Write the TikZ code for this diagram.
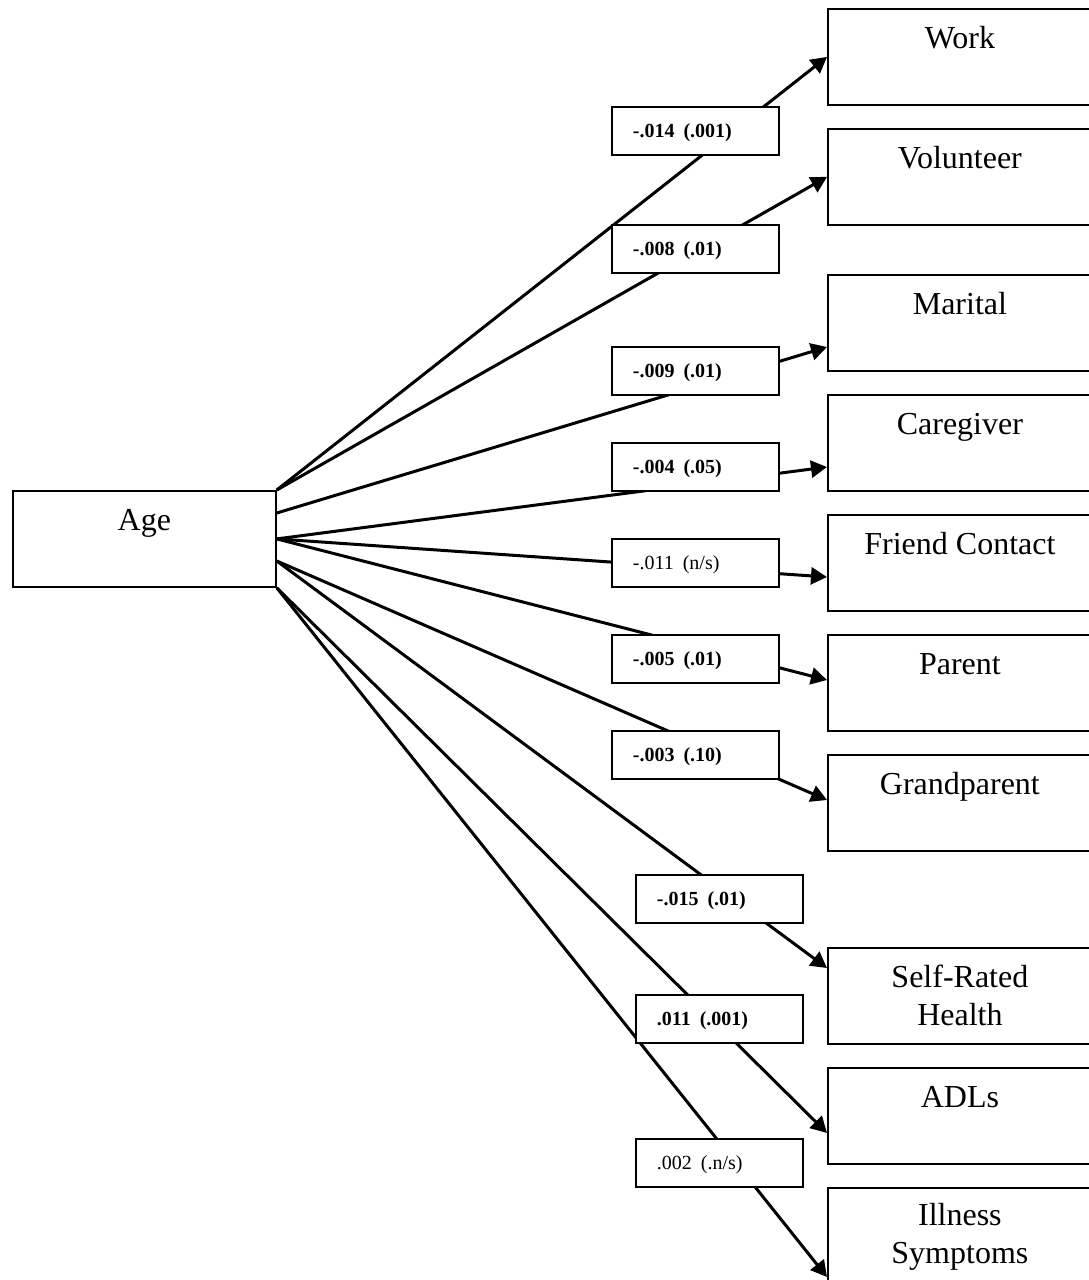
\documentclass[tikz,border=0pt]{standalone}
\usepackage{fontspec}
\setmainfont{Liberation Serif}
\usetikzlibrary{arrows.meta}
\begin{document}
\begin{tikzpicture}[x=1pt,y=-1pt,
  vbox/.style={draw, line width=1.8pt, anchor=north west, inner sep=0pt,
    minimum width=264pt, text height=40pt, text depth=56pt,
    font=\fontsize{32}{38}\selectfont},
  agebox/.style={vbox, minimum width=263pt},
  coef/.style={draw, line width=1.8pt, fill=white, anchor=north west,
    inner xsep=21pt, inner ysep=0pt, text width=125pt, align=left,
    text height=31pt, text depth=17pt,
    font=\fontsize{20}{24}\selectfont\bfseries},
  coefns/.style={coef, font=\fontsize{20}{24}\selectfont},
  arr/.style={line width=3pt, -{Triangle[length=16pt,width=17pt]}}
]
\useasboundingbox (0,0) rectangle (1089,1280);
\clip (0,0) rectangle (1089,1280);

% boxes
\node[agebox] (age) at (12,490) {Age};
\node[vbox] (work) at (827,8) {Work};
\node[vbox] (vol) at (827,128) {Volunteer};
\node[vbox] (mar) at (827,274) {Marital};
\node[vbox] (care) at (827,394) {Caregiver};
\node[vbox] (friend) at (827,514) {Friend Contact};
\node[vbox] (parent) at (827,634) {Parent};
\node[vbox] (grand) at (827,754) {Grandparent};
\node[vbox] (srh) at (827,947) {\begin{tabular}[t]{@{}c@{}}Self-Rated\\Health\end{tabular}};
\node[vbox] (adl) at (827,1067) {ADLs};
\node[vbox, text height=38pt] (ill) at (827,1187) {\begin{tabular}[t]{@{}c@{}}Illness\\Symptoms\end{tabular}};

% start points on Age
\coordinate (s2) at ([yshift=-23pt]age.north east);
\coordinate (s4) at ([yshift=-71pt]age.north east);

% connectors
\draw[arr] (age.north east) -- (work.west);
\draw[arr] (age.north east) -- (vol.west);
\draw[arr] (s2) -- ([yshift=-73pt]mar.north west);
\draw[arr] (age.east) -- ([yshift=-73pt]care.north west);
\draw[arr] (age.east) -- ([yshift=-63pt]friend.north west);
\draw[arr] (age.east) -- ([yshift=-46pt]parent.north west);
\draw[arr] (s4) -- ([yshift=-46pt]grand.north west);
\draw[arr] (s4) -- ([yshift=-21pt]srh.north west);
\draw[arr] (age.south east) -- ([yshift=-66pt]adl.north west);
\draw[arr] (age.south east) -- ([yshift=-90pt]ill.north west);

% coefficient labels
\node[coef] (c1) at (611,106) {-.014\hspace{9pt}(.001)};
\node[coef] (c2) at (611,224) {-.008\hspace{9pt}(.01)};
\node[coef] (c3) at (611,346) {-.009\hspace{9pt}(.01)};
\node[coef] (c4) at (611,442) {-.004\hspace{9pt}(.05)};
\node[coefns] (c5) at (611,538) {-.011\hspace{9pt}(n/s)};
\node[coef] (c6) at (611,634) {-.005\hspace{9pt}(.01)};
\node[coef] (c7) at (611,730) {-.003\hspace{9pt}(.10)};
\node[coef] (c8) at (635,874) {-.015\hspace{9pt}(.01)};
\node[coef] (c9) at (635,994) {.011\hspace{9pt}(.001)};
\node[coefns] (c10) at (635,1138) {.002\hspace{9pt}(.n/s)};
\end{tikzpicture}
\end{document}
